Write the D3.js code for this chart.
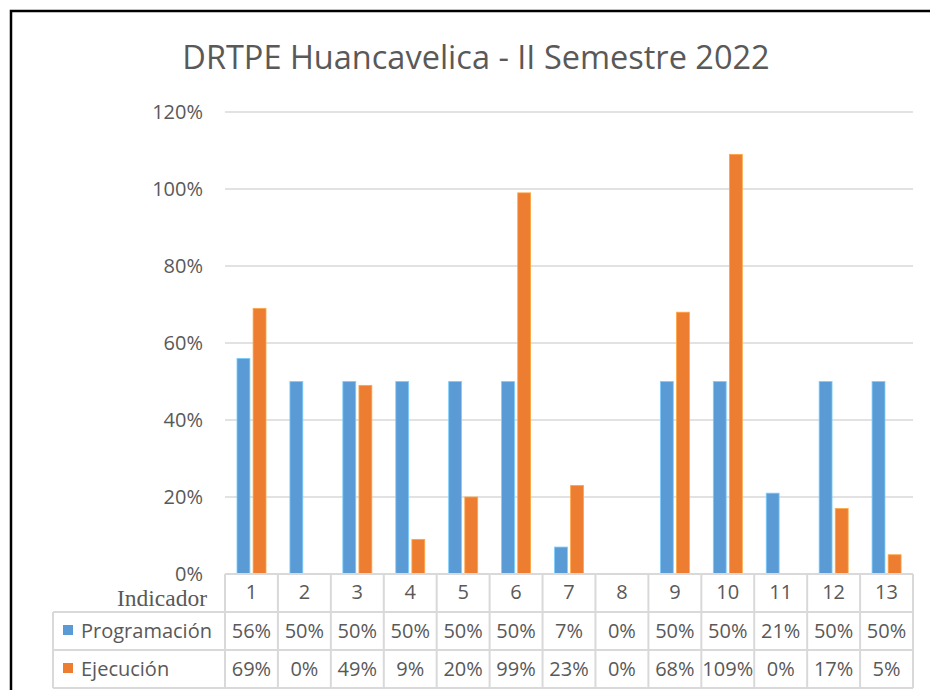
<!DOCTYPE html>
<html lang="es">
<head>
    <meta charset="UTF-8">
    <title>DRTPE Huancavelica</title>
    <script src="https://d3js.org/d3.v7.min.js"></script>
    <style>
        body {margin: 0; background: #fff;}
        text {font-family: "Open Sans", sans-serif; fill: #595959;}
        text.serif {font-family: "Liberation Serif", serif;}
    </style>
</head>
<body>
<div id="chart"></div>
<script>
// Datos del grafico
var indicadores = ["1","2","3","4","5","6","7","8","9","10","11","12","13"];
var programacion = [56, 50, 50, 50, 50, 50, 7, 0, 50, 50, 21, 50, 50];
var ejecucion = [69, 0, 49, 9, 20, 99, 23, 0, 68, 109, 0, 17, 5];
var series = ["Programación", "Ejecución"];
var yTicks = [0, 20, 40, 60, 80, 100, 120];

var colores = {"Programación": "#5b9bd5", "Ejecución": "#ed7d31"};
var valores = {"Programación": programacion, "Ejecución": ejecucion};

var width = 930, height = 690;
var plotLeft = 225, plotRight = 913, plotTop = 112, plotBottom = 574;
var rowH = 38;
var tableLeft = 53;
var fontSize = "20px";

var svg = d3.select("#chart").append("svg")
    .attr("width", width)
    .attr("height", height);

// borde del grafico
svg.append("path")
    .attr("d", "M11,690 L11,11 L930,11")
    .attr("fill", "none")
    .attr("stroke", "#000")
    .attr("stroke-width", 2.5);

// titulo
svg.append("text")
    .attr("x", 476)
    .attr("y", 69)
    .attr("text-anchor", "middle")
    .attr("font-size", "32.5px")
    .text("DRTPE Huancavelica - II Semestre 2022");

// escalas
var x = d3.scaleBand().domain(indicadores).range([plotLeft, plotRight]);
var x1 = d3.scaleBand().domain(series).range([12, 41]).paddingInner(0.2);
var y = d3.scaleLinear().domain([0, 120]).range([plotBottom, plotTop]);

// lineas de cuadricula
svg.append("g")
    .selectAll("line")
    .data(yTicks.slice(1))
    .enter().append("line")
    .attr("x1", plotLeft).attr("x2", plotRight)
    .attr("y1", function(d){ return y(d); })
    .attr("y2", function(d){ return y(d); })
    .attr("stroke", "#d9d9d9")
    .attr("stroke-width", 1.5);

// eje Y
var yAxis = d3.axisLeft(y)
    .tickValues(yTicks)
    .tickSize(0)
    .tickPadding(22)
    .tickFormat(function(d){ return d + "%"; });

var gy = svg.append("g")
    .attr("transform", "translate(" + plotLeft + ",0)")
    .call(yAxis);
gy.select(".domain").remove();
gy.selectAll("text")
    .attr("font-size", fontSize)
    .attr("font-family", "'Open Sans', sans-serif")
    .attr("fill", "#595959");

// barras
series.forEach(function(s){
    svg.append("g")
        .selectAll("rect")
        .data(valores[s])
        .enter().append("rect")
        .attr("x", function(d, i){ return x(indicadores[i]) + x1(s); })
        .attr("y", function(d){ return y(d); })
        .attr("width", x1.bandwidth())
        .attr("height", function(d){ return plotBottom - y(d); })
        .attr("fill", colores[s])
        .attr("stroke", d3.color(colores[s]).brighter(0.8))
        .attr("stroke-width", function(d){ return d === 0 ? 0 : 0.8; });
});

// tabla de datos
var table = svg.append("g");
var gridColor = "#d9d9d9";

// lineas horizontales
[0, 1, 2, 3].forEach(function(k){
    var yy = plotBottom + k * rowH;
    table.append("line")
        .attr("x1", k === 0 ? plotLeft : tableLeft)
        .attr("x2", plotRight)
        .attr("y1", yy).attr("y2", yy)
        .attr("stroke", gridColor)
        .attr("stroke-width", 2);
});

// lineas verticales
indicadores.forEach(function(c){
    table.append("line")
        .attr("x1", x(c)).attr("x2", x(c))
        .attr("y1", plotBottom).attr("y2", plotBottom + 3 * rowH)
        .attr("stroke", gridColor)
        .attr("stroke-width", 2);
});
table.append("line")
    .attr("x1", plotRight).attr("x2", plotRight)
    .attr("y1", plotBottom).attr("y2", plotBottom + 3 * rowH)
    .attr("stroke", gridColor).attr("stroke-width", 2);
table.append("line")
    .attr("x1", tableLeft).attr("x2", tableLeft)
    .attr("y1", plotBottom + rowH).attr("y2", plotBottom + 3 * rowH)
    .attr("stroke", gridColor).attr("stroke-width", 2);

// cabecera
table.selectAll(".cat")
    .data(indicadores)
    .enter().append("text")
    .attr("class", "cat")
    .attr("x", function(d){ return x(d) + x.bandwidth() / 2; })
    .attr("y", plotBottom + 25)
    .attr("text-anchor", "middle")
    .attr("font-size", fontSize)
    .text(function(d){ return d; });

table.append("text")
    .attr("class", "serif")
    .attr("x", 207)
    .attr("y", plotBottom + 32)
    .attr("text-anchor", "end")
    .attr("font-size", "23.5px")
    .text("Indicador");

// filas de series
series.forEach(function(s, r){
    var rowY = plotBottom + rowH * (r + 1);
    table.append("rect")
        .attr("x", 63)
        .attr("y", rowY + 13)
        .attr("width", 10)
        .attr("height", 10)
        .attr("fill", colores[s]);
    table.append("text")
        .attr("x", 81)
        .attr("y", rowY + 26)
        .attr("font-size", fontSize)
        .text(s);
    table.append("g")
        .selectAll("text")
        .data(valores[s])
        .enter().append("text")
        .attr("x", function(d, i){ return x(indicadores[i]) + x.bandwidth() / 2; })
        .attr("y", rowY + 26)
        .attr("text-anchor", "middle")
        .attr("font-size", fontSize)
        .text(function(d){ return d + "%"; });
});
</script>
</body>
</html>
